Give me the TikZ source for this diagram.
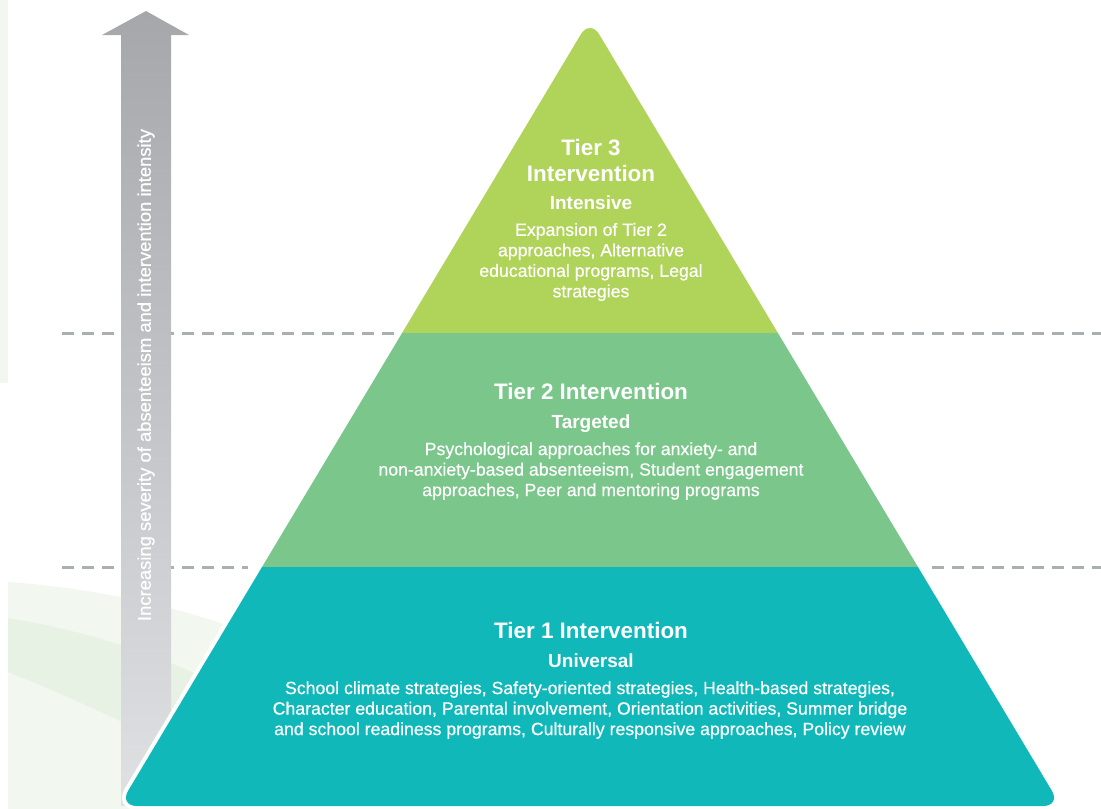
\documentclass[tikz,border=0pt]{standalone}
\usepackage{fontspec}
\setmainfont{Liberation Sans}
\newfontfamily\mediumfont[FakeBold=0.5]{Liberation Sans}
\usetikzlibrary{positioning,calc}
\definecolor{tierthree}{RGB}{176,211,90}
\definecolor{tiertwo}{RGB}{123,198,139}
\definecolor{tierone}{RGB}{16,184,186}
\definecolor{dashgray}{RGB}{169,175,179}
\definecolor{arrowtop}{RGB}{166,167,171}
\definecolor{arrowbottom}{RGB}{224,225,227}
\definecolor{bgpale}{RGB}{242,247,239}
\definecolor{bgband}{RGB}{231,242,228}

\begin{document}
\begin{tikzpicture}[
    x=1pt, y=-1pt,
    title/.style={text=white, font=\fontsize{22.4}{26}\selectfont\bfseries, align=center, inner sep=0pt},
    subtitle/.style={text=white, font=\fontsize{19}{22}\selectfont\bfseries, inner sep=0pt},
    body/.style={text=white, font=\mediumfont\fontsize{17.7}{20.5}\selectfont, align=center, inner sep=0pt},
    level/.style={dashgray, line width=3pt, dash pattern=on 12pt off 8pt},
    pyramid/.style={rounded corners=18pt}
]
\useasboundingbox (0,0) rectangle (1101,809);

% faint background
\fill[bgpale] (0,0) rectangle (8,383);
\fill[bgpale] (8,582) .. controls (90,588) and (170,604) .. (240,630) -- (240,809) -- (8,809) -- cycle;
\fill[bgband] (8,618) .. controls (80,630) and (150,650) .. (230,690) -- (200,760) .. controls (170,745) and (80,700) .. (8,672) -- cycle;

% tier levels
\draw[level] (62,333) -- (400,333);
\draw[level] (792,333) -- (1101,333);
\draw[level] (62,567) -- (248,567);
\draw[level] (932,567) -- (1101,567);

% severity arrow
\shade[top color=arrowtop, bottom color=arrowbottom] (121,806) -- (121,35) -- (102,35) -- (146,11) -- (189,35) -- (171,35) -- (171,806) -- cycle;
\node[rotate=90, text=white, font=\mediumfont\fontsize{18.4}{18}\selectfont] (severity) at (146,375) {Increasing severity of absenteeism and intervention intensity};

% pyramid
\coordinate (apex) at (590,19);
\coordinate (bl) at (119,806);
\coordinate (br) at (1061,806);
\draw[pyramid, white, line width=8pt] (apex) -- (br) -- (bl) -- cycle;
\begin{scope}
  \clip[pyramid] (apex) -- (br) -- (bl) -- cycle;
  \fill[tierone] (0,567) rectangle (1101,809);
  \fill[tiertwo] (0,333) rectangle (1101,567);
  \fill[tierthree] (0,0) rectangle (1101,333);
\end{scope}

% Tier 3
\node[title] (t3title) at (591,160) {Tier 3\\Intervention};
\node[subtitle] (t3sub) at (591,203) {Intensive};
\node[body] (t3body) at (591,262) {Expansion of Tier 2\\approaches, Alternative\\educational programs, Legal\\strategies};

% Tier 2
\node[title] (t2title) at (591,391) {Tier 2 Intervention};
\node[subtitle] (t2sub) at (591,424) {Targeted};
\node[body] (t2body) at (591,471) {Psychological approaches for anxiety- and\\non-anxiety-based absenteeism, Student engagement\\approaches, Peer and mentoring programs};

% Tier 1
\node[title] (t1title) at (591,630) {Tier 1 Intervention};
\node[subtitle] (t1sub) at (591,661) {Universal};
\node[body] (t1body) at (590,710) {School climate strategies, Safety-oriented strategies, Health-based strategies,\\Character education, Parental involvement, Orientation activities, Summer bridge\\and school readiness programs, Culturally responsive approaches, Policy review};

\end{tikzpicture}
\end{document}
